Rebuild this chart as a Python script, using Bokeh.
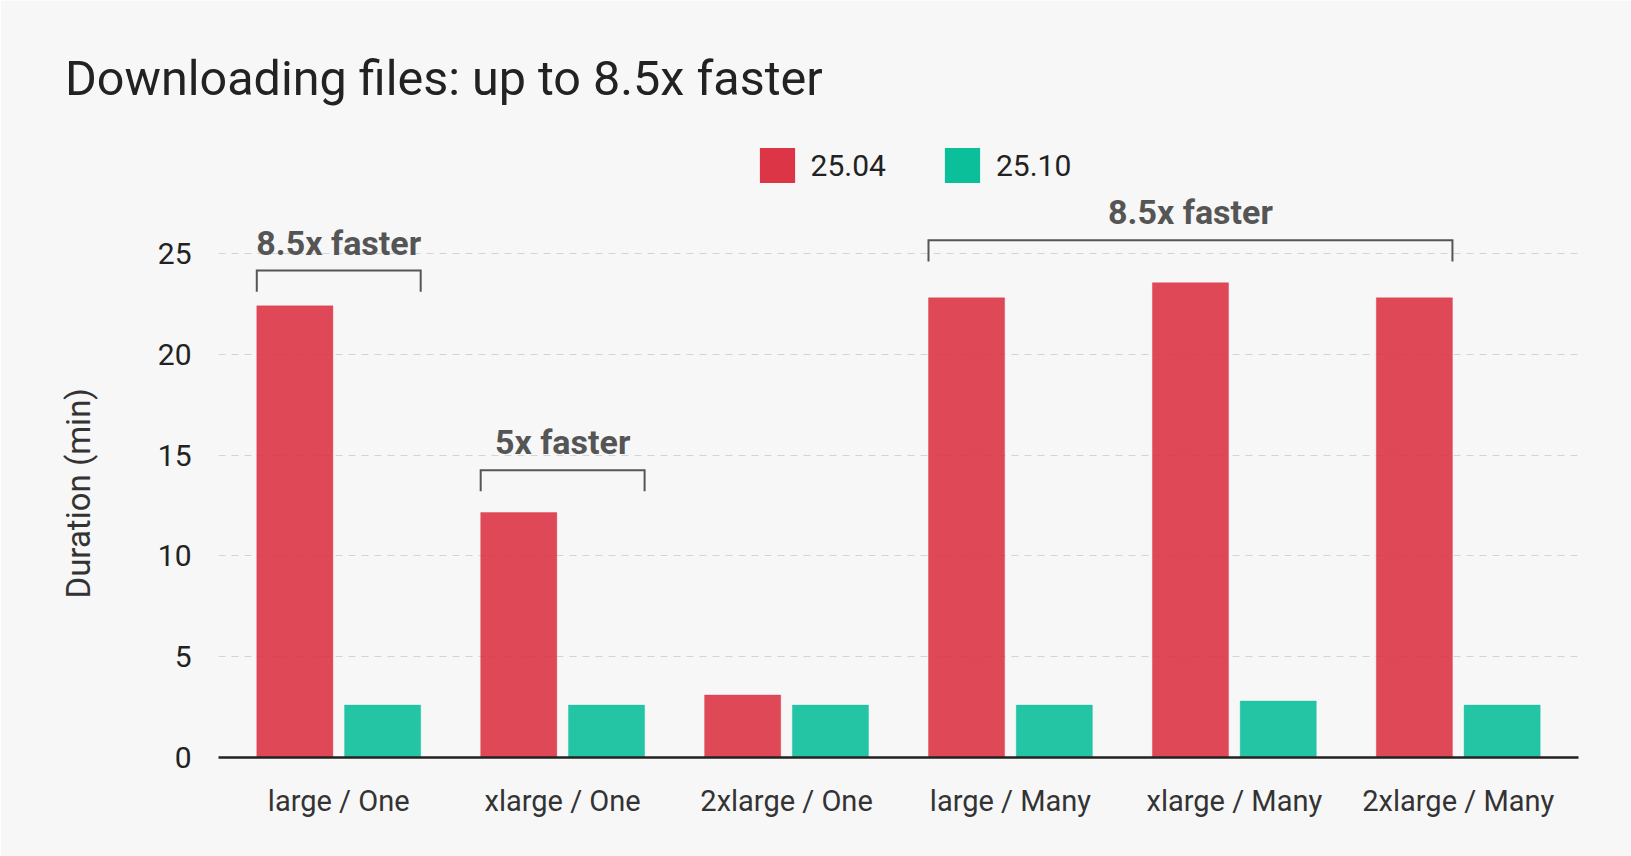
from bokeh.plotting import figure
from bokeh.models import (ColumnDataSource, FactorRange, Range1d, Label, Legend,
                          LegendItem, FixedTicker, Title)
from bokeh.transform import dodge
from bokeh.embed import file_html
from bokeh.resources import INLINE

# ---------------- data ----------------
categories = ["large / One", "xlarge / One", "2xlarge / One",
              "large / Many", "xlarge / Many", "2xlarge / Many"]
series_names = ["25.04", "25.10"]
v2504 = [22.4, 12.15, 3.1, 22.8, 23.55, 22.8]
v2510 = [2.6, 2.6, 2.6, 2.6, 2.8, 2.6]
y_ticks = [0, 5, 10, 15, 20, 25]

title_text = "Downloading files: up to 8.5x faster"
y_label = "Duration (min)"

# speed-up annotations
bracket_labels = ["8.5x faster", "5x faster", "8.5x faster"]
bracket_first = ["large / One", "xlarge / One", "large / Many"]
bracket_last = ["large / One", "xlarge / One", "2xlarge / Many"]
bracket_last_series = ["25.10", "25.10", "25.04"]
bracket_base = [23.1, 13.2, 24.6]
bracket_rise = 1.05

# ---------------- style ----------------
RED = "#DC3545"
GREEN = "#0BBF9B"
BG = "#f7f7f7"
FONT = "Roboto"
BAR_W = 0.34
OFF = 0.196

p = figure(
    x_range=FactorRange(factors=categories, range_padding=0.037,
                        range_padding_units="absolute"),
    y_range=Range1d(0, 30.6),
    width=1631, height=856,
    output_backend="svg", toolbar_location=None,
    min_border_left=218, min_border_right=53,
    min_border_top=140, min_border_bottom=99,
    background_fill_color=BG, border_fill_color=BG,
    outline_line_color=None,
)

# title (above panel)
p.title.text = title_text
p.title.align = "left"
p.title.offset = -153.5
p.title.standoff = 67.5
p.title.text_font = FONT
p.title.text_font_size = "48.5px"
p.title.text_font_style = "normal"
p.title.text_color = "#222222"

src = ColumnDataSource(dict(cat=categories, a=v2504, b=v2510))

p.vbar(x=dodge("cat", -OFF, range=p.x_range), top="a", width=BAR_W, source=src,
       fill_color=RED, fill_alpha=0.9, line_color=RED, line_alpha=0.35, line_width=1)
p.vbar(x=dodge("cat", OFF, range=p.x_range), top="b", width=BAR_W, source=src,
       fill_color=GREEN, fill_alpha=0.9, line_color=GREEN, line_alpha=0.35, line_width=1)

# legend renderers (zero-height, full opacity swatches)
leg_src = ColumnDataSource(dict(cat=categories[:1], zero=[0]))
leg_r1 = p.vbar(x="cat", top="zero", bottom="zero", width=BAR_W, source=leg_src,
                fill_color=RED, line_alpha=0)
leg_r2 = p.vbar(x="cat", top="zero", bottom="zero", width=BAR_W, source=leg_src,
                fill_color=GREEN, line_alpha=0)

legend = Legend(
    items=[LegendItem(label=series_names[0], renderers=[leg_r1]),
           LegendItem(label=series_names[1], renderers=[leg_r2])],
    orientation="horizontal", location=(536.6, 569.6),
    glyph_width=44, glyph_height=44, label_standoff=12, spacing=54,
    label_text_font=FONT, label_text_font_size="30px", label_text_color="#222222",
    padding=0, margin=0, border_line_color=None, background_fill_alpha=0,
)
p.add_layout(legend, "center")

# brackets + labels
xs, ys = [], []
for lab, f0, f1, s1, base in zip(bracket_labels, bracket_first, bracket_last,
                                  bracket_last_series, bracket_base):
    i0 = categories.index(f0)
    i1 = categories.index(f1)
    left = i0 + 0.5 - OFF - BAR_W / 2
    c1 = OFF if s1 == series_names[1] else -OFF
    right = i1 + 0.5 + c1 + BAR_W / 2
    top = base + bracket_rise
    xs.append([left, left, right, right])
    ys.append([base, top, top, base])
    p.add_layout(Label(x=(left + right) / 2, y=top, text=lab, text_align="center",
                       text_baseline="alphabetic", y_offset=28,
                       text_font=FONT, text_font_size="34px", text_font_style="bold",
                       text_color="#555555"))
p.multi_line(xs=xs, ys=ys, line_color="#555555", line_width=2, line_join="miter")

# grid
p.xgrid.visible = False
p.ygrid.ticker = FixedTicker(ticks=y_ticks)
p.ygrid.grid_line_color = "#d4d4d4"
p.ygrid.grid_line_dash = "7 6"
p.ygrid.grid_line_width = 1

# axes
p.yaxis.ticker = FixedTicker(ticks=y_ticks)
p.yaxis.axis_line_color = None
p.yaxis.major_tick_line_color = None
p.yaxis.minor_tick_line_color = None
p.yaxis.major_label_text_font = FONT
p.yaxis.major_label_text_font_size = "30px"
p.yaxis.major_label_text_color = "#222222"
p.yaxis.major_label_standoff = 21

# y axis title (left panel, placed along the 0-25 span)
p.add_layout(Title(text=y_label, align="left", offset=159, standoff=112.5,
                   text_font=FONT, text_font_size="33px", text_font_style="normal",
                   text_color="#333333"), "left")

p.xaxis.axis_line_color = "#222222"
p.xaxis.axis_line_width = 2.5
p.xaxis.major_tick_line_color = None
p.xaxis.minor_tick_line_color = None
p.xaxis.major_label_text_font = FONT
p.xaxis.major_label_text_font_size = "29px"
p.xaxis.major_label_text_color = "#333333"
p.xaxis.major_label_standoff = 20

open("out.html", "w").write(file_html(p, INLINE))
